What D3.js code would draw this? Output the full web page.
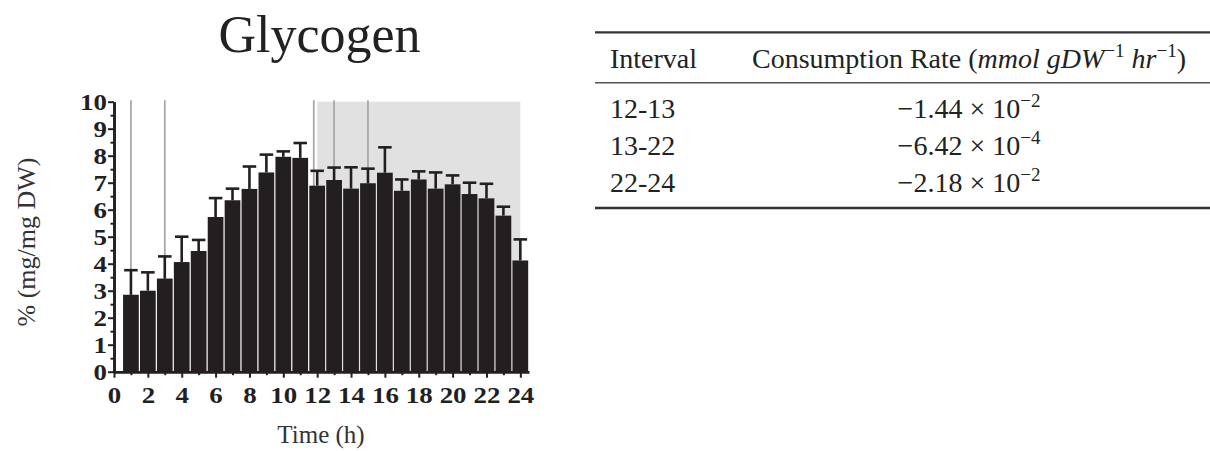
<!DOCTYPE html>
<html>
<head>
<meta charset="utf-8">
<script src="https://cdn.jsdelivr.net/npm/d3@7"></script>
<style>
  html, body { margin: 0; padding: 0; background: #fff; }
  svg { display: block; }
  .tick text { font-family: "Liberation Serif", "Times New Roman", serif; font-weight: bold; font-size: 23px; fill: #231f20; }
</style>
</head>
<body>
<svg id="chart" width="1210" height="451"></svg>
<script>
// ---------- data ----------
const title = "Glycogen";
const xLabel = "Time (h)";
const yLabel = "% (mg/mg DW)";
const hours = [1,2,3,4,5,6,7,8,9,10,11,12,13,14,15,16,17,18,19,20,21,22,23,24];
const glycogen = [2.85,3.00,3.45,4.06,4.47,5.73,6.35,6.77,7.38,7.96,7.92,6.89,7.10,6.78,6.98,7.37,6.70,7.12,6.78,6.94,6.58,6.42,5.78,4.12];
const glycogenSD = [0.91,0.68,0.82,0.94,0.41,0.70,0.43,0.83,0.66,0.20,0.55,0.55,0.46,0.79,0.54,0.94,0.42,0.30,0.60,0.33,0.42,0.54,0.33,0.78];
const markerTimes = [1,3,11.8,13,15];
const shadedRange = [12,24];
const xTickValues = [0,2,4,6,8,10,12,14,16,18,20,22,24];
const xMinorTicks = [1,3,5,7,9,11,13,15,17,19,21,23];
const yTickValues = [0,1,2,3,4,5,6,7,8,9,10];
const yMinorTicks = [0.5,1.5,2.5,3.5,4.5,5.5,6.5,7.5,8.5,9.5];

const tableHeader = ["Interval", "Consumption Rate"];
const intervals = ["12-13", "13-22", "22-24"];
const rateMantissa = ["\u22121.44", "\u22126.42", "\u22122.18"];
const rateExponent = ["\u22122", "\u22124", "\u22122"];

// ---------- chart ----------
const svg = d3.select("#chart");
const ink = "#231f20";

const x = d3.scaleLinear().domain([0, 24.5]).range([114, 528.8]);
const y = d3.scaleLinear().domain([0, 10]).range([371.7, 101.7]);
const step = x(1) - x(0);

// shaded region
svg.append("rect")
  .attr("x", x(shadedRange[0])).attr("width", x(shadedRange[1]) - x(shadedRange[0]))
  .attr("y", y(10)).attr("height", y(0) - y(10))
  .attr("fill", "#e1e1e1");

// marker lines
svg.append("g").selectAll("line").data(markerTimes).join("line")
  .attr("x1", d => x(d)).attr("x2", d => x(d))
  .attr("y1", y(10) - 1.5).attr("y2", y(0))
  .attr("stroke", "#a8a8a8").attr("stroke-width", 1.8);

const data = hours.map((h, i) => ({h, v: glycogen[i], sd: glycogenSD[i]}));

// error bars (upper only)
const eb = svg.append("g").attr("stroke", ink).attr("stroke-width", 2.6);
eb.selectAll("line.v").data(data).join("line").attr("class", "v")
  .attr("x1", d => x(d.h)).attr("x2", d => x(d.h))
  .attr("y1", d => y(d.v)).attr("y2", d => y(d.v + d.sd));
eb.selectAll("line.c").data(data).join("line").attr("class", "c")
  .attr("x1", d => x(d.h) - step * 0.4).attr("x2", d => x(d.h) + step * 0.4)
  .attr("y1", d => y(d.v + d.sd)).attr("y2", d => y(d.v + d.sd));

// bars
svg.append("g").selectAll("rect").data(data).join("rect")
  .attr("x", d => x(d.h - 0.5) + 0.6)
  .attr("width", step - 1.2)
  .attr("y", d => y(d.v))
  .attr("height", d => y(0) - y(d.v))
  .attr("fill", ink);

// axes
const yAxis = svg.append("g").attr("transform", `translate(${x(0)},0)`)
  .call(d3.axisLeft(y).tickValues(yTickValues).tickFormat(d3.format("d")).tickSize(6).tickPadding(0).tickSizeOuter(0));
const yMinor = svg.append("g").attr("transform", `translate(${x(0)},0)`)
  .call(d3.axisLeft(y).tickValues(yMinorTicks).tickFormat("").tickSize(3.5).tickSizeOuter(0));
const xAxis = svg.append("g").attr("transform", `translate(0,${y(0)})`)
  .call(d3.axisBottom(x).tickValues(xTickValues).tickFormat(d3.format("d")).tickSize(6).tickPadding(9).tickSizeOuter(0));
const xMinor = svg.append("g").attr("transform", `translate(0,${y(0)})`)
  .call(d3.axisBottom(x).tickValues(xMinorTicks).tickFormat("").tickSize(3.5).tickSizeOuter(0));

[yAxis, yMinor, xAxis, xMinor].forEach(g => {
  g.select(".domain").attr("stroke", ink).attr("stroke-width", 2.6);
  g.selectAll(".tick line").attr("stroke", ink).attr("stroke-width", 2);
});
yAxis.selectAll(".tick text").attr("dy", "0.34em").attr("transform", "scale(1.17,1)");
xAxis.selectAll(".tick text").attr("transform", "scale(1.17,1)");

// title & labels
const serif = "'Liberation Serif', 'Times New Roman', serif";
svg.append("text").attr("x", 319.5).attr("y", 52)
  .attr("text-anchor", "middle").attr("font-family", serif).attr("font-size", 52)
  .attr("fill", "#222").text(title);
svg.append("text").attr("x", 321).attr("y", 443)
  .attr("text-anchor", "middle").attr("font-family", serif).attr("font-size", 25)
  .attr("fill", "#333").text(xLabel);
svg.append("text").attr("transform", "translate(35,242) rotate(-90)")
  .attr("text-anchor", "middle").attr("font-family", serif).attr("font-size", 26)
  .attr("fill", "#333").text(yLabel);

// ---------- table ----------
const tFont = "'Liberation Serif', 'Times New Roman', serif";
const tSize = 28;
const tColor = "#222";
const tLeft = 595, tRight = 1210;
const col1 = 610, col2 = 969;
svg.append("line").attr("x1", tLeft).attr("x2", tRight).attr("y1", 32.3).attr("y2", 32.3)
  .attr("stroke", "#333").attr("stroke-width", 2.3);
svg.append("line").attr("x1", tLeft).attr("x2", tRight).attr("y1", 82.7).attr("y2", 82.7)
  .attr("stroke", "#555").attr("stroke-width", 1.4);
svg.append("line").attr("x1", tLeft).attr("x2", tRight).attr("y1", 208).attr("y2", 208)
  .attr("stroke", "#333").attr("stroke-width", 2.3);

svg.append("text").attr("x", col1).attr("y", 68).attr("font-family", tFont)
  .attr("font-size", tSize).attr("fill", tColor).text(tableHeader[0]);

const hdr = svg.append("text").attr("x", col2).attr("y", 68).attr("text-anchor", "middle")
  .attr("font-family", tFont).attr("font-size", tSize).attr("fill", tColor);
hdr.append("tspan").text(tableHeader[1] + " (");
hdr.append("tspan").attr("font-style", "italic").text("mmol gDW");
hdr.append("tspan").attr("font-size", 19).attr("dy", -11).text("\u22121");
hdr.append("tspan").attr("dy", 11).attr("font-style", "italic").text(" hr");
hdr.append("tspan").attr("font-size", 19).attr("dy", -11).text("\u22121");
hdr.append("tspan").attr("dy", 11).text(")");

const rowY = [118, 155, 191.7];
intervals.forEach((iv, i) => {
  svg.append("text").attr("x", col1).attr("y", rowY[i]).attr("font-family", tFont)
    .attr("font-size", tSize).attr("fill", tColor).text(iv);
  const t = svg.append("text").attr("x", col2).attr("y", rowY[i]).attr("text-anchor", "middle")
    .attr("font-family", tFont).attr("font-size", tSize).attr("fill", tColor);
  t.append("tspan").text(rateMantissa[i] + " \u00d7 10");
  t.append("tspan").attr("font-size", 19).attr("dy", -11).text(rateExponent[i]);
});
</script>
</body>
</html>
